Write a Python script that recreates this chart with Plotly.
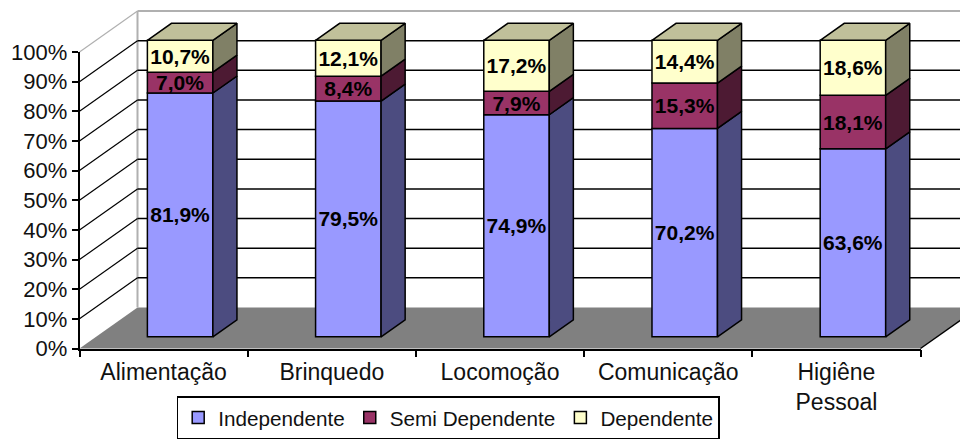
import plotly.graph_objects as go

categories = ["Alimentação", "Brinquedo", "Locomoção", "Comunicação", "Higiêne<br>Pessoal"]
independente = [81.9, 79.5, 74.9, 70.2, 63.6]
semi_dependente = [7.0, 8.4, 7.9, 15.3, 18.1]
dependente = [10.7, 12.1, 17.2, 14.4, 18.6]
y_ticks = list(range(0, 101, 10))

# the page has an 8 px body margin, so the figure is 8 px smaller and every
# layout position below is measured in the figure's own pixels
PAGE = 8
W, H = 968 - PAGE, 442 - PAGE
AX_L, AX_R, AX_0, AX_100 = 79.5 - PAGE, 920.5 - PAGE, 348.5 - PAGE, 52.0 - PAGE
U_X = (AX_R - AX_L) / 5
U_Y = (AX_0 - AX_100) / 100
DX = 58 / U_X
DY = 41 / U_Y
D0, D1 = 0.285, 0.70
BAR_W = 65.5 / U_X
FONT = "Liberation Sans"
XR = [-0.5 - AX_L / U_X, -0.5 + (W - AX_L) / U_X]
YR = [-(H - AX_0) / U_Y, AX_0 / U_Y]


def proj(c, pct, depth):
    return c + depth * DX, pct + depth * DY


series = [
    ("Independente", independente, "#9999FF", "#4C4C80", None),
    ("Semi Dependente", semi_dependente, "#993366", "#4D1A33", None),
    ("Dependente", dependente, "#FFFFCC", "#808066", "#C0C09A"),
]
totals = [sum(v) for v in zip(independente, semi_dependente, dependente)]

fig = go.Figure()


def poly(pts, fill, axes=("x", "y"), line="black", lw=1.5):
    xs = [p[0] for p in pts]
    ys = [p[1] for p in pts]
    fig.add_trace(go.Scatter(x=xs, y=ys, xaxis=axes[0], yaxis=axes[1], mode="lines",
                             fill="toself" if fill else None, fillcolor=fill,
                             line=dict(color=line, width=lw), showlegend=False, hoverinfo="skip"))


def seg(a, b, color, lw):
    poly([a, b], None, line=color, lw=lw)


x_left, x_right = -0.5, 4.5
# floor
poly([proj(x_left, 0, 0), proj(x_right, 0, 0), proj(x_right, 0, 1), proj(x_left, 0, 1), proj(x_left, 0, 0)],
     "#808080", line="rgba(0,0,0,0)", lw=0)
seg(proj(x_right, 0, 0), proj(x_right, 0, 1), "black", 1.5)
# walls and gridlines
seg(proj(x_left, 0, 1), proj(x_left, 100, 1), "#B0B0B0", 2)
seg(proj(x_left, 100, 1), proj(x_right, 100, 1), "#B0B0B0", 2)
seg(proj(x_left, 100, 0), proj(x_left, 100, 1), "#B0B0B0", 1.2)
for t in y_ticks[1:-1]:
    seg(proj(x_left, t, 0), proj(x_left, t, 1), "black", 1.2)
    seg(proj(x_left, t, 1), proj(x_right, t, 1), "black", 1.5)

# bars
cum = [0.0] * 5
for name, vals, front, side, top in series:
    norm = [100 * v / t for v, t in zip(vals, totals)]
    base = [proj(0, b, D0)[1] for b in cum]
    fig.add_trace(go.Bar(
        x=[proj(i, 0, D0)[0] for i in range(5)], y=norm, base=base, width=BAR_W, name=name,
        xaxis="x2", yaxis="y2", marker=dict(color=front, line=dict(color="black", width=1.5)),
        text=[f"{v:.1f}%".replace(".", ",") for v in vals], textposition="inside",
        insidetextanchor="middle", textangle=0, constraintext="none",
        insidetextfont=dict(family=FONT, size=21, color="black", weight="bold"), hoverinfo="skip",
    ))
    for i in range(5):
        cx = i - BAR_W / 2
        cr = i + BAR_W / 2
        b, tp = cum[i], cum[i] + norm[i]
        poly([proj(cr, b, D0), proj(cr, tp, D0), proj(cr, tp, D1), proj(cr, b, D1), proj(cr, b, D0)],
             side, axes=("x2", "y2"))
        if top:
            poly([proj(cx, tp, D0), proj(cr, tp, D0), proj(cr, tp, D1), proj(cx, tp, D1), proj(cx, tp, D0)],
                 top, axes=("x2", "y2"))
    cum = [c + n for c, n in zip(cum, norm)]

# the visible axes
fig.add_trace(go.Scatter(x=categories, y=[0] * 5, xaxis="x3", yaxis="y3", mode="lines",
                         line=dict(color="rgba(0,0,0,0)", width=0), showlegend=False, hoverinfo="skip"))

hidden = dict(visible=False, fixedrange=True)
fig.update_layout(
    width=W, height=H, margin=dict(l=0, r=0, t=0, b=0, autoexpand=False),
    paper_bgcolor="white", plot_bgcolor="rgba(0,0,0,0)", barmode="overlay",
    xaxis=dict(domain=[0, 1], range=XR, **hidden),
    yaxis=dict(domain=[0, 1], range=YR, **hidden),
    xaxis2=dict(domain=[0, 1], range=XR, anchor="y2", **hidden),
    yaxis2=dict(domain=[0, 1], range=YR, anchor="x2", **hidden),
    xaxis3=dict(domain=[AX_L / W, AX_R / W], anchor="y3", type="category", categoryorder="array",
                categoryarray=categories, range=[-0.5, 4.5], tickson="boundaries", ticks="outside",
                ticklen=7, tickwidth=1.5, tickcolor="black", showline=True, linecolor="black", linewidth=1.5,
                showgrid=False, tickfont=dict(family=FONT, size=23, color="#111111"), tickangle=0,
                fixedrange=True, zeroline=False, ticklabelstandoff=2),
    yaxis3=dict(domain=[(H - AX_0) / H, (H - AX_100) / H], anchor="x3", range=[0, 100], tickmode="array",
                tickvals=y_ticks, ticktext=[f"{t}%" for t in y_ticks], ticks="outside", ticklen=6,
                tickwidth=1.5, tickcolor="black", showline=True, linecolor="black", linewidth=1.5,
                showgrid=False, zeroline=False, tickfont=dict(family=FONT, size=22, color="#111111"),
                fixedrange=True),
    legend=dict(orientation="h", x=(176.7 - PAGE) / W, y=(H - (396 - PAGE)) / H, xanchor="left", yanchor="top",
                bgcolor="white", bordercolor="black", borderwidth=1.5,
                font=dict(family=FONT, size=20.7, color="#111111"), traceorder="normal", itemclick=False),
    showlegend=True,
)
fig.write_html("out.html")
